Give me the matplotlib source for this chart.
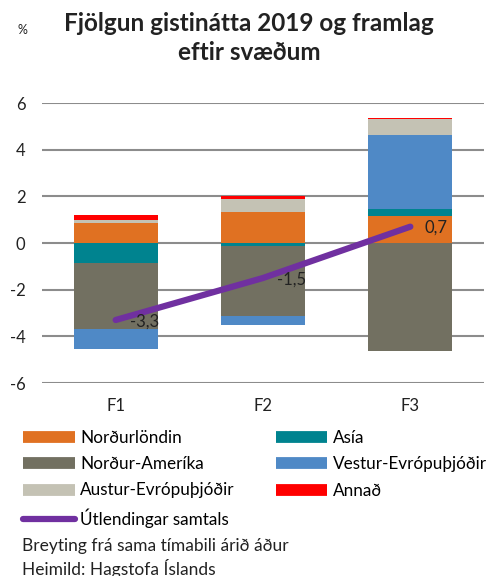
import matplotlib
matplotlib.use("Agg")
import matplotlib.pyplot as plt
from matplotlib.lines import Line2D
import numpy as np

plt.rcParams['font.family'] = ['Lato', 'DejaVu Sans']

categories = ["F1", "F2", "F3"]
nordurlondin = [0.84, 1.31, 1.17]
asia = [-0.86, -0.13, 0.27]
nordur_amerika = [-2.82, -3.00, -4.64]
vestur_evropa = [-0.86, -0.39, 3.21]
austur_evropa = [0.13, 0.58, 0.67]
annad = [0.24, 0.11, 0.03]
samtals = [-3.3, -1.5, 0.7]
samtals_labels = ["-3,3", "-1,5", "0,7"]
yticks = [-6, -4, -2, 0, 2, 4, 6]

series = [
    ("Norðurlöndin", nordurlondin, "#E07122"),
    ("Asía", asia, "#00838F"),
    ("Norður-Ameríka", nordur_amerika, "#727061"),
    ("Vestur-Evrópuþjóðir", vestur_evropa, "#4F89C6"),
    ("Austur-Evrópuþjóðir", austur_evropa, "#C4C2B4"),
    ("Annað", annad, "#FF0000"),
]

fig = plt.figure(figsize=(4.98, 5.76), dpi=100)
ax = fig.add_axes([42/498, 1-383/576, (484-42)/498, (383-103)/576])

x = np.arange(len(categories))
pos_base = np.zeros(len(categories))
neg_base = np.zeros(len(categories))
handles = {}
for name, vals, col in series:
    v = np.array(vals, dtype=float)
    bottoms = np.where(v >= 0, pos_base, neg_base)
    ax.bar(x, v, bottom=bottoms, width=0.57, color=col, zorder=2)
    pos_base = pos_base + np.where(v >= 0, v, 0)
    neg_base = neg_base + np.where(v < 0, v, 0)
    handles[name] = Line2D([0], [0], color=col, lw=8.5, solid_capstyle='butt')

ax.plot(x, samtals, color="#7030A0", lw=4.5, solid_capstyle='round', zorder=3)
for xi, yi, lab in zip(x, samtals, samtals_labels):
    ax.annotate(lab, (xi, yi), xytext=(10, -1), textcoords='offset points',
                ha='left', va='center', fontsize=12, color='#222222', zorder=4)

ax.set_xlim(-0.5, 2.5)
ax.set_ylim(-6, 6)
ax.set_yticks(yticks)
ax.set_yticklabels([str(t) for t in yticks])
ax.set_xticks(x)
ax.set_xticklabels(categories)
ax.yaxis.grid(True, color='#8C8C8C', lw=1.5, zorder=0)
ax.set_axisbelow(True)
for s in ax.spines.values():
    s.set_visible(False)
ax.tick_params(axis='both', length=0, labelsize=12, colors='#222222')
ax.tick_params(axis='y', pad=12)
ax.tick_params(axis='x', pad=11)

fig.text(0.5, 1-38/576, "Fjölgun gistinátta 2019 og framlag\neftir svæðum",
         ha='center', va='center', fontsize=17.5, fontweight='bold', color='#222222',
         linespacing=1.3)
fig.text(22/498, 1-30/576, "%", ha='center', va='center', fontsize=9, color='#222222')

line_handle = Line2D([0], [0], color="#7030A0", lw=4.5, solid_capstyle='round')
order = ["Norðurlöndin", "Norður-Ameríka", "Austur-Evrópuþjóðir", None,
         "Asía", "Vestur-Evrópuþjóðir", "Annað"]
hs, ls = [], []
for n in order:
    if n is None:
        hs.append(line_handle); ls.append("Útlendingar samtals")
    else:
        hs.append(handles[n]); ls.append(n)
fig.legend(hs, ls, ncol=2, loc='upper left', bbox_to_anchor=(23/498, 1-430/576),
           frameon=False, fontsize=12.3, handlelength=3.04, handletextpad=0.3,
           labelspacing=0.6, columnspacing=2.4, borderaxespad=0, borderpad=0)

fig.text(22/498, 1-546/576, "Breyting frá sama tímabili árið áður", ha='left', va='center',
         fontsize=12.5, color='#222222')
fig.text(22/498, 1-568/576, "Heimild: Hagstofa Íslands", ha='left', va='center',
         fontsize=12.5, color='#222222')

fig.savefig("out.png", dpi=100)
